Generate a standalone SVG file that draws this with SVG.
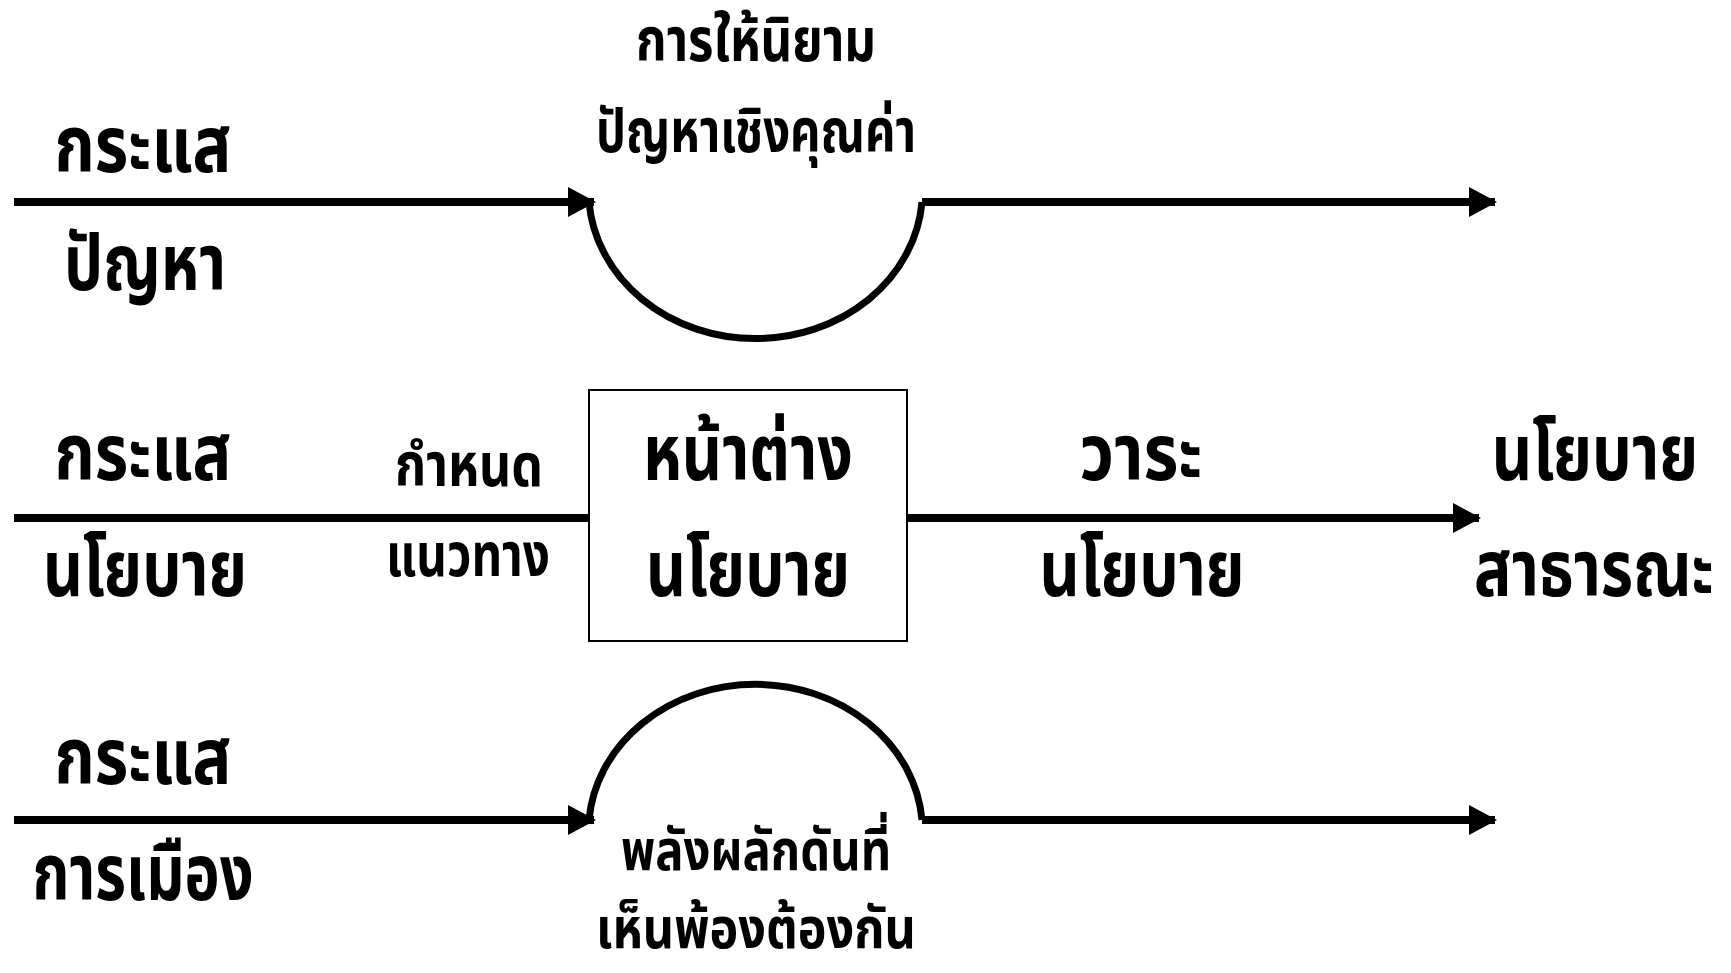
<svg xmlns="http://www.w3.org/2000/svg" width="1731" height="973" viewBox="0 0 1731 973">
<style>
.t{font-family:"Noto Sans Thai","Noto Sans","DejaVu Sans",sans-serif;fill:#000;text-anchor:middle}
.b{font-size:78px;font-weight:bold}
.s{font-size:60px;font-weight:bold}
.s2{font-size:56px;font-weight:bold}
.ln{fill:none;stroke:#000;stroke-width:8}
.arc{fill:none;stroke:#000;stroke-width:7}
</style>
<defs>
<marker id="ah" markerWidth="28" markerHeight="30" refX="26" refY="15" orient="auto" markerUnits="userSpaceOnUse">
<path d="M0,0 L28,15 L0,30 Z" fill="#000"/>
</marker>
</defs>
<rect width="1731" height="973" fill="#fff"/>
<g id="connectors">
<line class="ln" x1="14" y1="202" x2="594" y2="202" marker-end="url(#ah)"/>
<path class="arc" d="M589,202 A167,148 0 0,0 922,202"/>
<line class="ln" x1="922" y1="202" x2="1495" y2="202" marker-end="url(#ah)"/>
<line class="ln" x1="14" y1="518" x2="589" y2="518"/>
<line class="ln" x1="907" y1="518" x2="1479" y2="518" marker-end="url(#ah)"/>
<line class="ln" x1="14" y1="820" x2="594" y2="820" marker-end="url(#ah)"/>
<path class="arc" d="M589,820 A167,147 0 0,1 922,820"/>
<line class="ln" x1="922" y1="820" x2="1495" y2="820" marker-end="url(#ah)"/>
</g>
<g id="stream-problem">
<text class="t b" x="143" y="172" textLength="177" lengthAdjust="spacingAndGlyphs">กระแส</text>
<text class="t b" x="145" y="290" textLength="162" lengthAdjust="spacingAndGlyphs">ปัญหา</text>
</g>
<g id="problem-definition">
<text class="t s" x="756" y="61" textLength="240" lengthAdjust="spacingAndGlyphs">การให้นิยาม</text>
<text class="t s" x="756" y="152" textLength="320" lengthAdjust="spacingAndGlyphs">ปัญหาเชิงคุณค่า</text>
</g>
<g id="stream-policy">
<text class="t b" x="143" y="480" textLength="177" lengthAdjust="spacingAndGlyphs">กระแส</text>
<text class="t b" x="145" y="596" textLength="204" lengthAdjust="spacingAndGlyphs">นโยบาย</text>
</g>
<g id="guideline">
<text class="t s" x="469" y="486" textLength="148" lengthAdjust="spacingAndGlyphs">กำหนด</text>
<text class="t s" x="468" y="576" textLength="164" lengthAdjust="spacingAndGlyphs">แนวทาง</text>
</g>
<g id="policy-window">
<rect x="589" y="390" width="318" height="251" fill="none" stroke="#000" stroke-width="2"/>
<text class="t b" x="748" y="480" textLength="210" lengthAdjust="spacingAndGlyphs">หน้าต่าง</text>
<text class="t b" x="748" y="596" textLength="204" lengthAdjust="spacingAndGlyphs">นโยบาย</text>
</g>
<g id="policy-agenda">
<text class="t b" x="1141" y="480" textLength="123" lengthAdjust="spacingAndGlyphs">วาระ</text>
<text class="t b" x="1142" y="596" textLength="205" lengthAdjust="spacingAndGlyphs">นโยบาย</text>
</g>
<g id="public-policy">
<text class="t b" transform="translate(1595,480) scale(0.805,1)">นโยบาย</text>
<text class="t b" transform="translate(1594,596) scale(0.8,1)">สาธารณะ</text>
</g>
<g id="stream-politics">
<text class="t b" x="143" y="784" textLength="177" lengthAdjust="spacingAndGlyphs">กระแส</text>
<text class="t b" x="143" y="900" textLength="221" lengthAdjust="spacingAndGlyphs">การเมือง</text>
</g>
<g id="political-forces">
<text class="t s2" x="756" y="870" textLength="270" lengthAdjust="spacingAndGlyphs">พลังผลักดันที่</text>
<text class="t s2" x="756" y="948" textLength="320" lengthAdjust="spacingAndGlyphs">เห็นพ้องต้องกัน</text>
</g>
</svg>
